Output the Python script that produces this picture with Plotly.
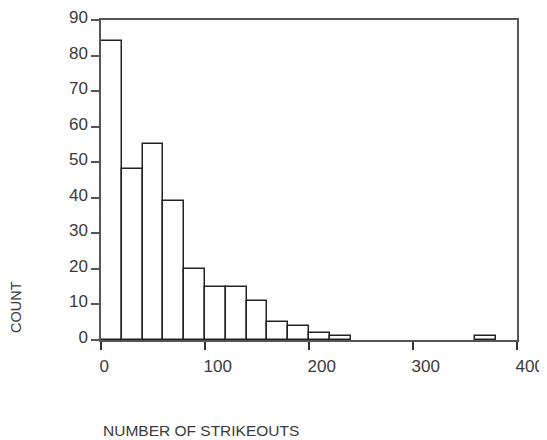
import plotly.graph_objects as go

# Histogram data: bin start (number of strikeouts), bin width 20
bin_starts = [0, 20, 40, 60, 80, 100, 120, 140, 160, 180, 200, 220, 360]
counts = [84, 48, 55, 39, 20, 15, 15, 11, 5, 4, 2, 1, 1]
bin_width = 20

x_ticks = [0, 100, 200, 300, 400]
y_ticks = [0, 10, 20, 30, 40, 50, 60, 70, 80, 90]

x_title = "NUMBER OF STRIKEOUTS"
y_title = "COUNT"

font_family = "Liberation Sans, Arial, sans-serif"
text_color = "#3a3a3a"

fig = go.Figure()
fig.add_trace(go.Bar(
    x=bin_starts,
    y=counts,
    width=[bin_width] * len(bin_starts),
    offset=0,
    marker=dict(color="white", line=dict(color="#222222", width=1.5)),
    hoverinfo="x+y",
))

# page body has an 8px default margin, so the figure is 8px smaller
fig.update_layout(
    width=539,
    height=432,
    margin=dict(l=93, r=30, t=12, b=100, autoexpand=False),
    plot_bgcolor="white",
    paper_bgcolor="white",
    showlegend=False,
    bargap=0,
    font=dict(family=font_family, size=15, color=text_color),
    xaxis=dict(
        range=[0, 400],
        tickvals=x_ticks,
        ticktext=[str(v) for v in x_ticks],
        ticks="outside",
        ticklen=8,
        tickwidth=1.5,
        tickcolor="#333333",
        showline=True,
        linecolor="#555555",
        linewidth=1.5,
        mirror=True,
        showgrid=False,
        zeroline=False,
        automargin=False,
        ticklabelposition="outside right",
        ticklabelstandoff=10,
        ticklabelshift=-3,
        ticklabeloverflow="allow",
        tickfont=dict(size=17, color=text_color),
    ),
    yaxis=dict(
        range=[0, 90],
        tickvals=y_ticks,
        ticktext=[str(v) for v in y_ticks],
        ticks="outside",
        ticklen=8,
        tickwidth=1.5,
        tickcolor="#555555",
        showline=True,
        linecolor="#555555",
        linewidth=1.5,
        mirror=True,
        showgrid=False,
        zeroline=False,
        automargin=False,
        ticklabelshift=-3,
        ticklabeloverflow="allow",
        tickfont=dict(size=17, color=text_color),
    ),
    annotations=[
        dict(
            text=x_title, xref="paper", yref="paper",
            x=0, y=-0.28125, xanchor="left", yanchor="middle",
            showarrow=False, font=dict(size=15.5, color=text_color),
        ),
        dict(
            text=y_title, xref="paper", yref="paper",
            x=-0.2043, y=0.103, xanchor="center", yanchor="middle",
            textangle=-90, showarrow=False, font=dict(size=14.5, color=text_color),
        ),
    ],
)

fig.write_html("out.html")
